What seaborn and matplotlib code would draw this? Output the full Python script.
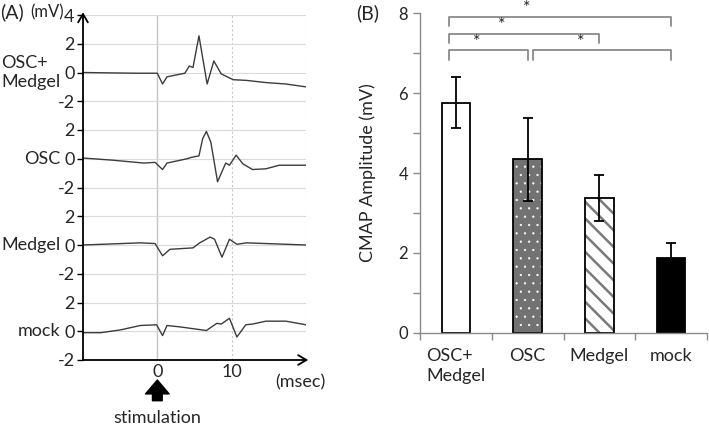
import matplotlib.pyplot as plt
import numpy as np
import pandas as pd
import seaborn as sns

# (A) CMAP traces, time in msec, amplitude in mV
trace_names = ["OSC+\nMedgel", "OSC", "Medgel", "mock"]
t_osc_medgel = [-10, -3, 0, 0.7, 1.3, 3.7, 4.3, 4.8, 5.6, 6.7, 7.6, 8.6, 10.2, 12, 14.6, 17.3, 20]
v_osc_medgel = [0, -0.05, -0.05, -0.8, -0.3, -0.05, 0.45, 0.35, 2.55, -0.8, 0.8, -0.1, -0.5, -0.55, -0.7, -0.8, -1.0]
t_osc = [-10, -6, -1.8, -0.3, 0.7, 1.3, 4, 4.6, 5.6, 6.1, 6.6, 7.2, 8.1, 9.2, 9.7, 10.6, 11.5, 12.8, 14.6, 16.4, 20]
v_osc = [0.05, -0.1, -0.3, -0.25, -0.75, -0.3, 0, 0.1, 0.2, 1.4, 1.9, 1.15, -1.6, -0.3, -0.45, 0.25, -0.35, -0.75, -0.7, -0.45, -0.45]
t_medgel = [-10, -2.3, -0.3, 0.7, 1.7, 4.8, 5.7, 7.1, 7.7, 8.7, 9.7, 10.7, 12, 20]
v_medgel = [0, 0.15, 0.1, -0.75, -0.3, -0.2, 0.15, 0.55, 0.4, -0.85, 0.4, 0.05, 0.15, 0]
t_mock = [-10, -7.6, -4.9, -2.3, -0.1, 0.7, 1.3, 3.1, 6.6, 8, 8.6, 9.7, 10.7, 11.9, 12.8, 14.6, 17.3, 20]
v_mock = [-0.1, -0.1, 0.1, 0.4, 0.45, -0.3, 0.4, 0.3, 0.05, 0.55, 0.5, 0.9, -0.4, 0.45, 0.5, 0.7, 0.7, 0.45]

# (B) CMAP amplitude, mean and error
groups = ["OSC+\nMedgel", "OSC", "Medgel", "mock"]
amp_mean = [5.76, 4.34, 3.37, 1.88]
amp_err = [0.64, 1.04, 0.57, 0.37]
# significance brackets: (left group, right group)
sig_pairs = [(0, 3), (0, 2), (0, 1), (1, 3)]

STEP = 6  # vertical offset between stacked traces (mV)
FS = 13

sns.set_style("white")
plt.rcParams["font.family"] = ["Lato", "DejaVu Sans"]

fig = plt.figure(figsize=(7.09, 4.26), dpi=100)
axA = fig.add_axes([83 / 709, 66 / 426, 223 / 709, 345 / 426])
axB = fig.add_axes([420 / 709, 93.3 / 426, 287 / 709, 319.4 / 426])

# ---- panel A ----
frames = []
for k, (name, t, v) in enumerate(zip(trace_names, [t_osc_medgel, t_osc, t_medgel, t_mock],
                                     [v_osc_medgel, v_osc, v_medgel, v_mock])):
    off = (3 - k) * STEP
    frames.append(pd.DataFrame({"t": t, "mV": np.array(v) + off, "trace": name.replace("\n", " ")}))
df = pd.concat(frames)

sns.lineplot(data=df, x="t", y="mV", units="trace", estimator=None, color="#3c3c3c",
             lw=1.0, ax=axA, legend=False)
axA.set_xlim(-10, 20)
axA.set_ylim(-2, 22)
yt = np.arange(-2, 23, 2)
axA.set_yticks(yt)
axA.set_yticklabels([str(y - 18) if y >= 16 else str((y + 2) % STEP - 2) for y in yt])
axA.set_xticks([0, 10])
axA.set_xticklabels(["0", "10"])
axA.tick_params(axis="x", length=0, labelsize=FS, pad=3)
axA.tick_params(axis="y", length=4, width=1, color="black", left=True, labelsize=FS, pad=2)
axA.yaxis.grid(True, color="#dadada", lw=0.8)
axA.xaxis.grid(False)
axA.axvline(0, color="#c4c4c4", lw=1.0, zorder=0)
for xv in [10, 20]:
    axA.axvline(xv, color="#c8c8c8", lw=0.8, ls=(0, (2, 2)), zorder=0)
axA.set_xlabel("")
axA.set_ylabel("")
for s in axA.spines.values():
    s.set_visible(False)

arrow_kw = dict(arrowstyle="->,head_length=0.6,head_width=0.35", color="black", lw=1.3,
                shrinkA=0, shrinkB=0)
axA.annotate("", xy=(0, 1.008), xytext=(0, 0), xycoords="axes fraction", arrowprops=arrow_kw)
axA.annotate("", xy=(1.01, 0), xytext=(0, 0), xycoords="axes fraction", arrowprops=arrow_kw)

ytrans = axA.get_yaxis_transform()
for k, name in enumerate(trace_names):
    axA.text(-0.1, (3 - k) * STEP, name, transform=ytrans, ha="right", va="center",
             multialignment="left", fontsize=FS, linespacing=1.25)

xtrans = axA.get_xaxis_transform()
axA.annotate("", xy=(0, -0.058), xytext=(0, -0.118), xycoords=xtrans,
             arrowprops=dict(facecolor="black", edgecolor="black", width=7, headwidth=17,
                             headlength=10, shrink=0), annotation_clip=False)
axA.text(0, -0.168, "stimulation", transform=xtrans, ha="center", va="center", fontsize=FS)

fig.text(0.0, 1 - 12 / 426, "(A)", ha="left", va="center", fontsize=14)
fig.text(30 / 709, 1 - 12 / 426, "(mV)", ha="left", va="center", fontsize=12)
fig.text(275 / 709, 1 - 382 / 426, "(msec)", ha="left", va="center", fontsize=FS)

# ---- panel B ----
dfB = pd.DataFrame({"group": groups, "amp": amp_mean})
fills = ["white", "#727272", "white", "black"]
hatch_colors = ["white", "white", "#7a7a7a", "black"]
hatches = ["", "..", "\\\\", ""]
hatch_widths = [1, 0.4, 1.8, 1]
sns.barplot(data=dfB, x="group", y="amp", width=0.4, errorbar=None, ax=axB,
            palette=fills, hue="group", legend=False, linewidth=0, saturation=1)
for p, hc, h, hw in zip(axB.patches, hatch_colors, hatches, hatch_widths):
    p.set_edgecolor(hc)
    p.set_hatch(h)
    if hasattr(p, "set_hatch_linewidth"):
        p.set_hatch_linewidth(hw)
sns.barplot(data=dfB, x="group", y="amp", width=0.4, errorbar=None, ax=axB,
            fill=False, color="black", linewidth=1.3)
axB.errorbar(range(len(groups)), amp_mean, yerr=amp_err, fmt="none", ecolor="black",
             elinewidth=1.3, capsize=3.5, capthick=1.3, zorder=5)

axB.set_xlim(-0.5, 3.5)
axB.set_ylim(0, 8)
axB.set_yticks([0, 2, 4, 6, 8])
axB.set_yticks([1, 3, 5, 7], minor=True)
axB.set_xticks([-0.5, 0.5, 1.5, 2.5, 3.5], minor=True)
axB.tick_params(axis="y", which="both", direction="out", length=5, color="#8a8a8a",
                labelsize=12, left=True, width=1)
axB.tick_params(axis="x", which="major", length=0, labelsize=FS, pad=11)
axB.tick_params(axis="x", which="minor", direction="out", length=5, color="#8a8a8a",
                bottom=True, width=1)
for lab in axB.get_xticklabels():
    lab.set_multialignment("left")
    lab.set_linespacing(1.3)
axB.set_xlabel("")
axB.set_ylabel("CMAP Amplitude (mV)", fontsize=FS, labelpad=16)
sns.despine(ax=axB)
for s in ["left", "bottom"]:
    axB.spines[s].set_color("#8a8a8a")
    axB.spines[s].set_linewidth(1.0)

levels = [7.9, 7.48, 7.07, 7.07]
for (a, b), y in zip(sig_pairs, levels):
    xa = a - 0.1
    xb = b
    if a == 1:
        xa = a + 0.07
    axB.plot([xa, xa, xb, xb], [y - 0.23, y, y, y - 0.23], color="#8a8a8a", lw=1.3,
             clip_on=False)
    axB.text(xa + 0.35 * (xb - xa), y + 0.02, "*", ha="center", va="bottom", fontsize=13)

fig.text(356 / 709, 1 - 13 / 426, "(B)", ha="left", va="center", fontsize=14)

plt.savefig("out.png", dpi=100)
